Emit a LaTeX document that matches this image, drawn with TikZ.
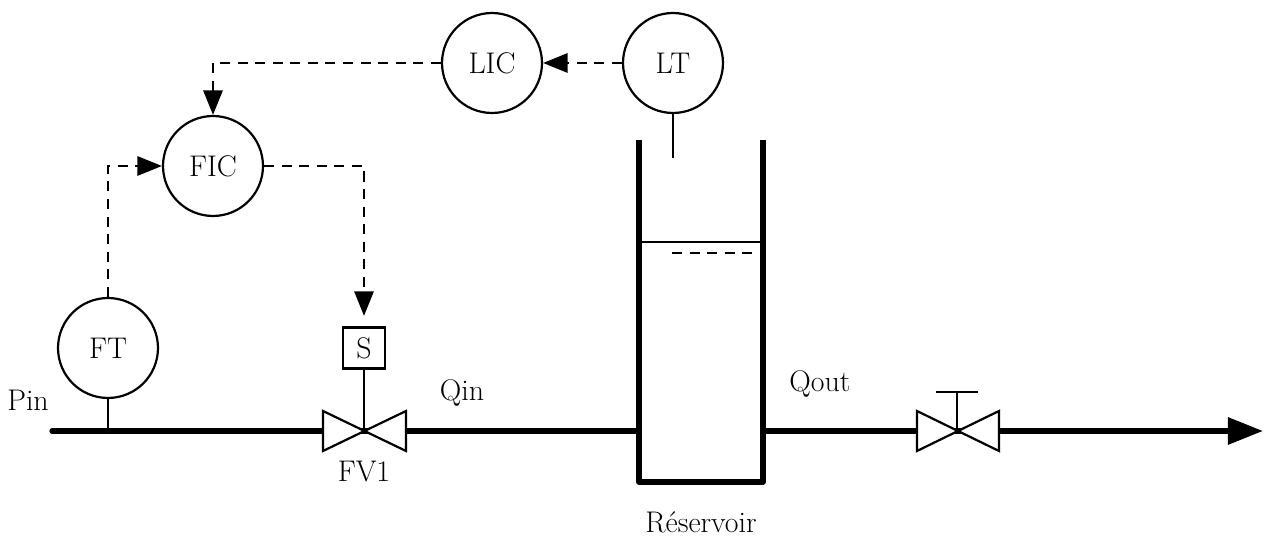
\documentclass[tikz,border=0pt]{standalone}
\usepackage{tikz}
\usetikzlibrary{arrows.meta, positioning, calc}

\tikzset{
  instr/.style={draw, circle, line width=1.25pt, minimum size=2.0cm, inner sep=0pt, font=\fontsize{17}{20}\selectfont},
  signal/.style={line width=1.25pt, dash pattern=on 5.7pt off 4.3pt, -{Triangle[length=14pt,width=11pt]}},
  pipe/.style={line width=3pt},
  valve/.style={line width=1.25pt, fill=white, line join=miter},
  lbl/.style={font=\fontsize{17}{20}\selectfont}
}

\begin{document}
\begin{tikzpicture}[x=0.02cm, y=-0.02cm]
            \useasboundingbox (0,0) rectangle (1272,536);

            % Instruments
            \node[instr] (ft)  at (108,348) {FT};
            \node[instr] (fic) at (213,166) {FIC};
            \node[instr] (lic) at (492,63)  {LIC};
            \node[instr] (lt)  at (673,63)  {LT};
            \node[draw, line width=1.25pt, minimum width=0.84cm, minimum height=0.82cm, inner sep=0pt, lbl] (sol) at (364,348) {S};

            % Pipe points
            \coordinate (pin)     at (52,431);
            \coordinate (ftpipe)  at (108,431);
            \coordinate (fv)      at (364,431);
            \coordinate (tankin)  at (639,431);
            \coordinate (tankout) at (763,431);
            \coordinate (hv)      at (957,431);
            \coordinate (pout)    at (1263,431);
            \coordinate (ltend)   at (673,158);

            % Reservoir
            \draw[pipe, line join=round] (639,140) -- (639,482) -- (763,482) -- (763,140);
            \draw[line width=1.25pt] (639,242) -- (763,242);
            \draw[line width=1.25pt, dash pattern=on 5.7pt off 4.3pt] (672,253) -- (752,253);

            % Pipes
            \draw[pipe, line cap=round] (pin) -- (tankin);
            \draw[pipe, -{Triangle[length=20pt,width=15pt]}] (tankout) -- (pout);

            % Valve FV1
            \draw[line width=1.25pt] (sol.south) -- (fv);
            \draw[valve] (323,411) -- (406,451) -- (406,411) -- (323,451) -- cycle;

            % Hand valve
            \draw[valve] (917,411) -- (999,451) -- (999,411) -- (917,451) -- cycle;
            \draw[line width=1.25pt] (hv) -- ++(0,-39) coordinate (hvtop);
            \draw[line width=1.25pt] ($(hvtop)+(-21,0)$) -- ($(hvtop)+(21,0)$);

            % Taps
            \draw[line width=1.25pt] (ft.south) -- (ftpipe);
            \draw[line width=1.25pt] (lt.south) -- (ltend);

            % Signals
            \draw[signal] (ft.north) |- (fic.west);
            \draw[signal, shorten >=6pt] (fic.east) -| (sol.north);
            \draw[signal] (lic.west) -| (fic.north);
            \draw[signal] (lt.west) -- (lic.east);

            % Labels
            \node[lbl] at (28,400) {Pin};
            \node[lbl] at (364,472) {FV1};
            \node[lbl] at (462,393) {Qin};
            \node[lbl] at (820,384) {Qout};
            \node[lbl] at (701,522) {Réservoir};
        \end{tikzpicture}
\end{document}
